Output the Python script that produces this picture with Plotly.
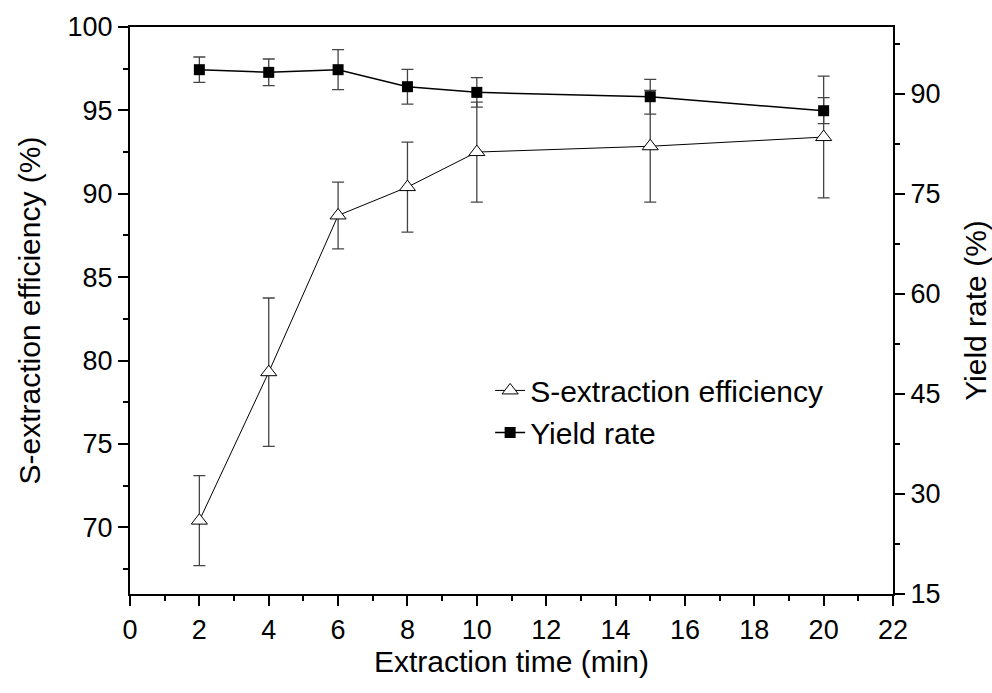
import plotly.graph_objects as go

time_min = [2, 4, 6, 8, 10, 15, 20]
s_eff = [70.4, 79.3, 88.7, 90.4, 92.5, 92.85, 93.4]
s_err = [2.7, 4.45, 2.0, 2.7, 3.0, 3.35, 3.65]
yield_rate = [93.6, 93.2, 93.6, 91.05, 90.2, 89.55, 87.45]
yield_err = [1.9, 2.0, 3.0, 2.6, 2.2, 2.6, 1.95]

FONT = "Arial, 'Liberation Sans', sans-serif"

fig = go.Figure()
fig.add_trace(go.Scatter(
    x=time_min, y=s_eff, name="S-extraction efficiency",
    mode="lines+markers",
    line=dict(color="black", width=1),
    marker=dict(symbol="triangle-up", size=14, color="white",
                line=dict(color="black", width=1)),
    error_y=dict(type="data", array=s_err, visible=True,
                 color="#444", thickness=1.3, width=6),
))
fig.add_trace(go.Scatter(
    x=time_min, y=yield_rate, name="Yield rate", yaxis="y2",
    mode="lines+markers",
    line=dict(color="black", width=1.5),
    marker=dict(symbol="square", size=11, color="black"),
    error_y=dict(type="data", array=yield_err, visible=True,
                 color="#444", thickness=1.3, width=6),
))

fig.update_layout(
    width=992, height=693,
    margin=dict(l=130, r=99, t=27, b=99),
    paper_bgcolor="white", plot_bgcolor="white",
    font=dict(family=FONT, color="black", size=27),
    showlegend=True,
    legend=dict(x=0.472, y=0.322, xanchor="left", yanchor="middle",
                bgcolor="rgba(0,0,0,0)", font=dict(size=30),
                tracegroupgap=0, itemwidth=30),
    xaxis=dict(
        range=[0, 22], tickmode="linear", tick0=0, dtick=2,
        showline=True, linecolor="black", linewidth=2, mirror=True,
        ticks="outside", ticklen=10, tickwidth=2, tickcolor="black",
        minor=dict(dtick=1, ticks="outside", ticklen=5, tickwidth=2, tickcolor="black"),
        showgrid=False, zeroline=False, ticklabelstandoff=1, automargin=False,
        title=dict(text="Extraction time (min)", font=dict(size=30), standoff=0),
        tickfont=dict(size=27),
    ),
    yaxis=dict(
        range=[66, 100], tickmode="linear", tick0=70, dtick=5,
        showline=True, linecolor="black", linewidth=2,
        ticks="outside", ticklen=10, tickwidth=2, tickcolor="black",
        minor=dict(dtick=2.5, ticks="outside", ticklen=5, tickwidth=2, tickcolor="black"),
        showgrid=False, zeroline=False, automargin=False,
        title=dict(text="S-extraction efficiency (%)", font=dict(size=30), standoff=18),
        tickfont=dict(size=27),
    ),
    yaxis2=dict(
        range=[15, 100], overlaying="y", side="right",
        tickmode="linear", tick0=15, dtick=15,
        showline=True, linecolor="black", linewidth=2,
        ticks="outside", ticklen=10, tickwidth=2, tickcolor="black",
        minor=dict(dtick=7.5, ticks="outside", ticklen=5, tickwidth=2, tickcolor="black"),
        showgrid=False, zeroline=False, automargin=False,
        title=dict(text="Yield rate (%)", font=dict(size=30), standoff=33),
        tickfont=dict(size=27),
    ),
)

fig.write_html("out.html")
